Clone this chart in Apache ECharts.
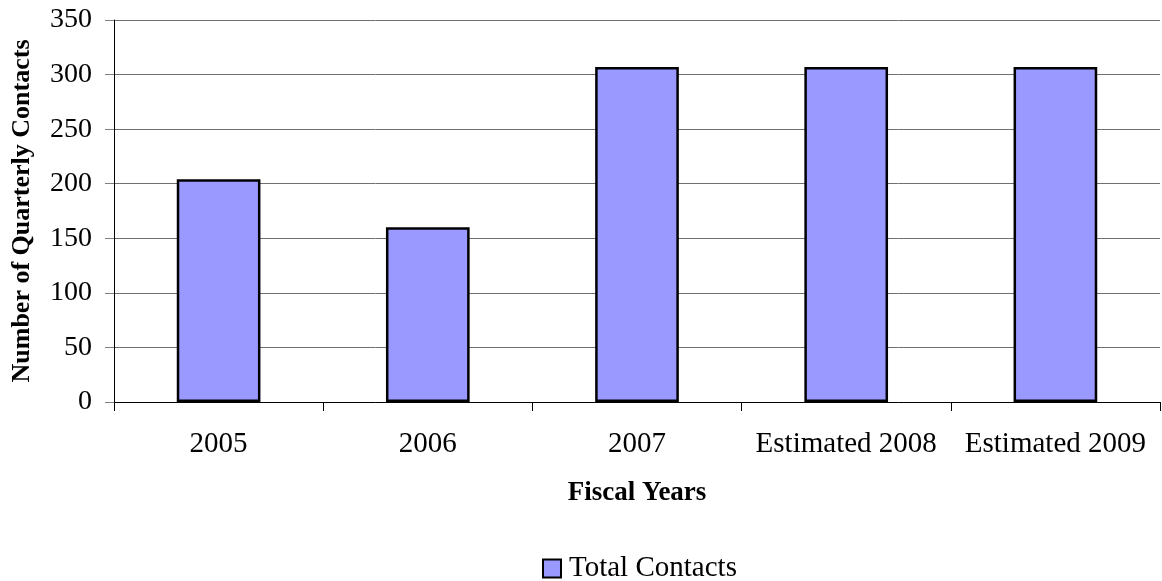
<!DOCTYPE html>
<html>
<head>
<meta charset="utf-8">
<script src="https://cdn.jsdelivr.net/npm/echarts@6/dist/echarts.min.js"></script>
<style>
  html, body { margin: 0; padding: 0; background: #fff; }
  #chart { width: 1162px; height: 581px; }
</style>
</head>
<body>
<div id="chart"></div>
<script>
// Quarterly contacts per fiscal year
const categories = ['2005', '2006', '2007', 'Estimated 2008', 'Estimated 2009'];
const totalContacts = [204, 160, 307, 307, 307];
const yTicks = { min: 0, max: 350, interval: 50 };

const serif = '"Liberation Serif", "DejaVu Serif", serif';

const chart = echarts.init(document.getElementById('chart'));
chart.setOption({
  animation: false,
  backgroundColor: '#ffffff',
  textStyle: { fontFamily: serif },
  grid: { left: 114, right: 2, top: 20, bottom: 179, containLabel: false, outerBoundsMode: 'none' },
  legend: {
    top: 549,
    left: 537,
    itemWidth: 18,
    itemHeight: 18,
    itemGap: 4,
    icon: 'rect',
    itemStyle: { borderColor: '#000', borderWidth: 2 },
    textStyle: { fontFamily: serif, fontSize: 29, color: '#000', padding: [0, 0, 0, 3] },
    data: ['Total Contacts']
  },
  xAxis: {
    type: 'category',
    data: categories,
    name: 'Fiscal Years',
    nameLocation: 'middle',
    nameGap: 78,
    nameTextStyle: { fontFamily: serif, fontSize: 27, fontWeight: 'bold', color: '#000' },
    axisLine: { lineStyle: { color: '#000', width: 1 } },
    axisTick: { show: true, interval: 0, alignWithLabel: false, length: 9, lineStyle: { color: '#000' } },
    axisLabel: { interval: 0, fontFamily: serif, fontSize: 29, color: '#000', margin: 28 }
  },
  yAxis: {
    type: 'value',
    min: yTicks.min,
    max: yTicks.max,
    interval: yTicks.interval,
    name: 'Number of Quarterly Contacts',
    nameLocation: 'middle',
    nameGap: 79,
    nameTextStyle: { fontFamily: serif, fontSize: 26, fontWeight: 'bold', color: '#000' },
    axisLine: { show: true, lineStyle: { color: '#000', width: 1 } },
    axisTick: { show: true, length: 9, lineStyle: { color: '#808080' } },
    axisLabel: { fontFamily: serif, fontSize: 28, color: '#000', margin: 22 },
    splitLine: { show: true, lineStyle: { color: '#707070', width: 1 } }
  },
  series: [{
    name: 'Total Contacts',
    type: 'bar',
    data: totalContacts,
    barWidth: '40%',
    itemStyle: { color: '#9999FF', borderColor: '#000', borderWidth: 2.5 }
  }]
});
</script>
</body>
</html>
